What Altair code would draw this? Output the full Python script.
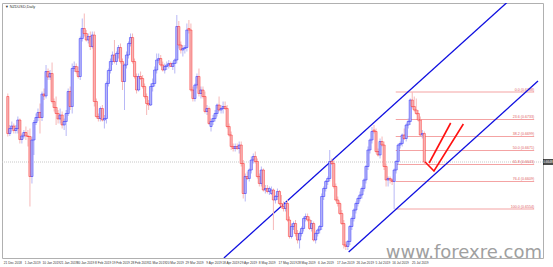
import altair as alt
import pandas as pd

# ---- daily candles (NZDUSD, Daily) ----
opens = [0.6779,0.6705,0.6715,0.6720,0.6711,0.6715,0.6732,0.6693,0.6700,0.6707,0.6700,0.6699,0.6619,0.6692,0.6727,0.6737,0.6747,0.6737,0.6784,0.6780,
         0.6829,0.6818,0.6825,0.6769,0.6757,0.6745,0.6734,0.6742,0.6722,0.6729,0.6745,0.6789,0.6759,0.6835,0.6839,0.6829,0.6819,0.6895,0.6915,0.6905,
         0.6892,0.6899,0.6879,0.6902,
         0.6769,0.6739,0.6735,0.6755,0.6732,0.6735,0.6805,0.6831,0.6849,0.6862,0.6849,0.6865,0.6877,0.6849,0.6809,0.6842,0.6862,0.6885,0.6897,0.6849,
         0.6819,0.6792,0.6819,0.6815,0.6799,0.6779,0.6765,0.6762,0.6799,0.6805,0.6832,0.6852,0.6855,0.6842,0.6832,0.6839,0.6842,0.6845,0.6839,0.6845,
         0.6852,0.6919,0.6882,0.6872,0.6875,0.6877,
         0.6915,0.6912,0.6792,0.6775,0.6802,0.6819,0.6785,0.6792,0.6779,0.6749,0.6755,0.6719,0.6729,0.6735,0.6745,0.6762,0.6752,0.6755,0.6759,0.6755,
         0.6719,0.6702,0.6679,0.6675,0.6679,0.6675,0.6682,0.6645,0.6585,0.6619,0.6615,0.6632,0.6652,0.6659,0.6649,0.6619,0.6605,0.6632,0.6592,0.6595,
         0.6589,0.6585,0.6592,
         0.6572,0.6579,0.6589,0.6565,0.6559,0.6555,0.6565,0.6532,0.6499,0.6519,0.6525,0.6505,0.6492,0.6505,0.6515,0.6535,0.6539,0.6532,0.6515,0.6525,
         0.6492,0.6505,0.6512,0.6519,0.6579,0.6595,0.6609,0.6615,0.6649,0.6645,0.6599,0.6572,0.6565,0.6545,0.6525,0.6482,0.6479,0.6489,0.6519,0.6535,
         0.6552,0.6565,0.6575,
         0.6582,0.6595,0.6612,0.6639,0.6672,0.6692,0.6712,0.6709,0.6669,0.6662,0.6689,0.6682,0.6639,0.6612,0.6615,0.6612,0.6609,0.6632,0.6649,0.6682,
         0.6685,0.6702,0.6695,0.6722,0.6729,0.6772,0.6759,0.6752,0.6745,0.6732,0.6702,0.6705]
highs = [0.6785,0.6722,0.6729,0.6725,0.6722,0.6739,0.6735,0.6705,0.6712,0.6719,0.6712,0.6715,0.6699,0.6732,0.6745,0.6755,0.6765,0.6789,0.6795,0.6842,
         0.6835,0.6832,0.6847,0.6775,0.6779,0.6752,0.6755,0.6749,0.6735,0.6752,0.6795,0.6799,0.6845,0.6849,0.6845,0.6839,0.6899,0.6935,0.6945,0.6912,
         0.6905,0.6909,0.6909,0.6909,
         0.6775,0.6745,0.6759,0.6762,0.6742,0.6809,0.6835,0.6855,0.6869,0.6892,0.6869,0.6882,0.6885,0.6855,0.6845,0.6869,0.6889,0.6905,0.6905,0.6855,
         0.6825,0.6825,0.6829,0.6822,0.6805,0.6785,0.6772,0.6805,0.6815,0.6839,0.6865,0.6865,0.6862,0.6849,0.6845,0.6849,0.6852,0.6849,0.6849,0.6855,
         0.6942,0.6930,0.6889,0.6882,0.6882,0.6925,
         0.6932,0.6925,0.6799,0.6805,0.6825,0.6835,0.6799,0.6799,0.6789,0.6762,0.6759,0.6735,0.6742,0.6752,0.6765,0.6779,0.6762,0.6769,0.6769,0.6762,
         0.6725,0.6709,0.6685,0.6685,0.6685,0.6689,0.6689,0.6652,0.6625,0.6629,0.6635,0.6659,0.6665,0.6669,0.6655,0.6625,0.6639,0.6635,0.6602,0.6602,
         0.6599,0.6599,0.6595,
         0.6582,0.6595,0.6592,0.6582,0.6569,0.6569,0.6572,0.6539,0.6525,0.6529,0.6532,0.6512,0.6509,0.6519,0.6539,0.6545,0.6545,0.6539,0.6532,0.6529,
         0.6509,0.6515,0.6522,0.6585,0.6599,0.6612,0.6619,0.6672,0.6655,0.6652,0.6605,0.6579,0.6569,0.6552,0.6532,0.6489,0.6492,0.6522,0.6539,0.6555,
         0.6569,0.6579,0.6589,
         0.6599,0.6615,0.6642,0.6679,0.6695,0.6718,0.6722,0.6715,0.6675,0.6695,0.6699,0.6689,0.6645,0.6619,0.6619,0.6615,0.6635,0.6652,0.6685,0.6689,
         0.6705,0.6715,0.6725,0.6735,0.6775,0.6788,0.6779,0.6775,0.6752,0.6739,0.6712,0.6709]
lows = [0.6699,0.6700,0.6709,0.6705,0.6705,0.6705,0.6685,0.6685,0.6695,0.6692,0.6679,0.6559,0.6605,0.6662,0.6722,0.6730,0.6705,0.6730,0.6772,0.6775,
        0.6812,0.6812,0.6765,0.6749,0.6722,0.6725,0.6725,0.6715,0.6712,0.6700,0.6740,0.6752,0.6745,0.6828,0.6825,0.6815,0.6812,0.6889,0.6899,0.6889,
        0.6885,0.6872,0.6875,0.6759,
        0.6735,0.6729,0.6729,0.6729,0.6715,0.6725,0.6799,0.6825,0.6842,0.6845,0.6842,0.6855,0.6845,0.6792,0.6752,0.6835,0.6855,0.6879,0.6845,0.6815,
        0.6785,0.6789,0.6812,0.6795,0.6775,0.6742,0.6752,0.6760,0.6789,0.6799,0.6825,0.6845,0.6839,0.6829,0.6825,0.6832,0.6835,0.6839,0.6832,0.6825,
        0.6845,0.6875,0.6865,0.6859,0.6865,0.6869,
        0.6905,0.6789,0.6769,0.6769,0.6795,0.6779,0.6775,0.6775,0.6745,0.6742,0.6722,0.6709,0.6722,0.6729,0.6739,0.6749,0.6745,0.6745,0.6752,0.6715,
        0.6699,0.6672,0.6669,0.6669,0.6672,0.6665,0.6639,0.6575,0.6569,0.6612,0.6609,0.6625,0.6645,0.6645,0.6615,0.6599,0.6599,0.6589,0.6585,0.6585,
        0.6582,0.6582,0.6512,
        0.6565,0.6572,0.6562,0.6555,0.6549,0.6549,0.6529,0.6495,0.6495,0.6512,0.6499,0.6485,0.6475,0.6499,0.6509,0.6529,0.6529,0.6512,0.6509,0.6489,
        0.6485,0.6499,0.6505,0.6512,0.6572,0.6589,0.6602,0.6609,0.6642,0.6595,0.6569,0.6559,0.6542,0.6522,0.6475,0.6472,0.6472,0.6482,0.6512,0.6529,
        0.6545,0.6559,0.6569,
        0.6575,0.6589,0.6605,0.6632,0.6665,0.6685,0.6705,0.6665,0.6659,0.6655,0.6679,0.6632,0.6599,0.6599,0.6605,0.6602,0.6554,0.6625,0.6642,0.6675,
        0.6679,0.6692,0.6689,0.6715,0.6722,0.6755,0.6749,0.6742,0.6729,0.6699,0.6695,0.6642]
closes = [0.6705,0.6715,0.6720,0.6711,0.6715,0.6732,0.6693,0.6700,0.6707,0.6700,0.6699,0.6619,0.6692,0.6727,0.6737,0.6747,0.6737,0.6784,0.6780,0.6829,
          0.6818,0.6825,0.6769,0.6757,0.6745,0.6734,0.6742,0.6722,0.6729,0.6745,0.6789,0.6759,0.6835,0.6839,0.6829,0.6819,0.6895,0.6915,0.6905,0.6892,
          0.6899,0.6879,0.6902,0.6769,
          0.6739,0.6735,0.6755,0.6732,0.6735,0.6805,0.6831,0.6849,0.6862,0.6849,0.6865,0.6877,0.6849,0.6809,0.6842,0.6862,0.6885,0.6897,0.6849,0.6819,
          0.6792,0.6819,0.6815,0.6799,0.6779,0.6765,0.6762,0.6799,0.6805,0.6832,0.6852,0.6855,0.6842,0.6832,0.6839,0.6842,0.6845,0.6839,0.6845,0.6852,
          0.6919,0.6882,0.6872,0.6875,0.6877,0.6912,
          0.6912,0.6792,0.6775,0.6802,0.6819,0.6785,0.6792,0.6779,0.6749,0.6755,0.6725,0.6729,0.6735,0.6745,0.6762,0.6752,0.6755,0.6759,0.6755,0.6719,
          0.6702,0.6679,0.6675,0.6679,0.6675,0.6682,0.6645,0.6585,0.6619,0.6615,0.6632,0.6652,0.6659,0.6649,0.6619,0.6605,0.6632,0.6592,0.6595,0.6589,
          0.6595,0.6592,0.6572,
          0.6579,0.6589,0.6565,0.6559,0.6555,0.6565,0.6532,0.6499,0.6519,0.6525,0.6505,0.6492,0.6505,0.6515,0.6535,0.6539,0.6532,0.6515,0.6525,0.6492,
          0.6505,0.6512,0.6519,0.6579,0.6595,0.6609,0.6615,0.6649,0.6645,0.6599,0.6572,0.6565,0.6545,0.6525,0.6482,0.6479,0.6489,0.6519,0.6535,0.6552,
          0.6565,0.6575,0.6582,
          0.6595,0.6612,0.6639,0.6672,0.6692,0.6709,0.6709,0.6669,0.6662,0.6689,0.6682,0.6639,0.6612,0.6615,0.6612,0.6609,0.6632,0.6649,0.6682,0.6685,
          0.6702,0.6695,0.6722,0.6729,0.6772,0.6759,0.6752,0.6745,0.6732,0.6702,0.6705,0.6648]

# ---- axes ----
y_ticks = [0.6966,0.6947,0.6928,0.6909,0.6890,0.6871,0.6852,0.6833,0.6814,0.6795,0.6776,0.6757,0.6738,0.6719,
           0.6700,0.6681,0.6662,0.6643,0.6624,0.6605,0.6586,0.6567,0.6548,0.6529,0.6510,0.6491,0.6472]
x_label_pos = [2.5,12.3,21.6,30.3,38.6,47.4,56.2,65.5,74.2,83.0,92.8,102.5,110.8,119.6,128.9,139.1,148.4,158.1,167.9,177.6,186.4,195.2,205.0]
x_label_txt = ["21 Dec 2018","1 Jan 2019","10 Jan 2019","21 Jan 2019","30 Jan 2019","8 Feb 2019","19 Feb 2019","28 Feb 2019",
               "11 Mar 2019","20 Mar 2019","29 Mar 2019","9 Apr 2019","18 Apr 2019","29 Apr 2019","8 May 2019","17 May 2019",
               "28 May 2019","6 Jun 2019","17 Jun 2019","26 Jun 2019","5 Jul 2019","16 Jul 2019","25 Jul 2019"]

# ---- drawn objects ----
fib_levels = ["0.0","23.6","38.2","50.0","61.8","76.4","100.0"]
fib_prices = [0.6788,0.6733,0.6699,0.6671,0.6643,0.6609,0.6554]
fib_start, fib_end = 192.8, 261.6

channel_name = ["upper","upper","lower","lower"]
channel_bar = [107.4, 248.9, 169.4, 263.5]
channel_price = [0.6456, 0.6970, 0.6468, 0.6810]

arrow_name = ["a1","a1","a1","a2","a2"]
arrow_order = [0,1,2,0,1]
arrow_bar = [207.4, 211.8, 226.4, 209.4, 220.1]
arrow_price = [0.6648, 0.6630, 0.6724, 0.6646, 0.6726]

last_price = 0.6648

xs = alt.Scale(domain=[-0.4, 263.5], nice=False, zero=False)
ys = alt.Scale(domain=[0.6456, 0.6966], nice=False, zero=False)

n = len(opens)
candles = pd.DataFrame({
    "i": list(range(n)), "o": opens, "h": highs, "l": lows, "c": closes,
    "dir": ["up" if c >= o else "down" for o, c in zip(opens, closes)],
})

base = alt.Chart(candles)
wicks = base.mark_rule(strokeWidth=1).encode(
    x=alt.X("i:Q", scale=xs, axis=None),
    y=alt.Y("l:Q", scale=ys, axis=None),
    y2="h:Q",
    color=alt.Color("dir:N", scale=alt.Scale(domain=["up", "down"], range=["#B8B8F6", "#F6B8B8"]), legend=None),
)
bodies = base.mark_bar(size=2.2, strokeWidth=0.4).encode(
    x=alt.X("i:Q", scale=xs, axis=alt.Axis(values=x_label_pos, labels=False, tickSize=2, tickColor="#666",
                                           domainColor="#777", grid=False, title=None)),
    y=alt.Y("o:Q", scale=ys, axis=alt.Axis(orient="right", values=y_ticks, format=".4f", labelFontSize=3.2,
                                           labelFont="Liberation Sans", labelColor="#444", tickSize=2, tickColor="#666",
                                           labelPadding=1, domainColor="#777", grid=False, title=None)),
    y2="c:Q",
    color=alt.Color("dir:N", scale=alt.Scale(domain=["up", "down"], range=["#0000FF", "#FF0000"]), legend=None),
    stroke=alt.Color("dir:N", scale=alt.Scale(domain=["up", "down"], range=["#0000FF", "#FF0000"]), legend=None),
)

price_line = alt.Chart(pd.DataFrame({"p": [last_price]})).mark_rule(
    color="#C8C8C8", strokeDash=[1, 1], strokeWidth=1).encode(y=alt.Y("p:Q", scale=ys, axis=None))

fib_df = pd.DataFrame({"p": fib_prices, "lab": [f"{lv} ({p:.4f})" for lv, p in zip(fib_levels, fib_prices)],
                       "x0": [fib_start] * 7, "x1": [fib_end] * 7})
fib_lines = alt.Chart(fib_df).mark_rule(color="#F4A3A3", strokeWidth=1).encode(
    x=alt.X("x0:Q", scale=xs, axis=None), x2="x1:Q", y=alt.Y("p:Q", scale=ys, axis=None))
fib_text = alt.Chart(fib_df).mark_text(align="right", baseline="bottom", dy=-0.5, fontSize=3.6,
                                       font="Liberation Sans", color="#E06060").encode(
    x=alt.X("x1:Q", scale=xs, axis=None), y=alt.Y("p:Q", scale=ys, axis=None), text="lab:N")

chan_df = pd.DataFrame({"name": channel_name, "b": channel_bar, "p": channel_price})
channels = alt.Chart(chan_df).mark_line(color="#1010E0", strokeWidth=1.3, clip=True).encode(
    x=alt.X("b:Q", scale=xs, axis=None), y=alt.Y("p:Q", scale=ys, axis=None), detail="name:N")

arr_df = pd.DataFrame({"name": arrow_name, "k": arrow_order, "b": arrow_bar, "p": arrow_price})
arrows = alt.Chart(arr_df).mark_line(color="#FF1010", strokeWidth=1.6).encode(
    x=alt.X("b:Q", scale=xs, axis=None), y=alt.Y("p:Q", scale=ys, axis=None), detail="name:N", order="k:Q")

lp_df = pd.DataFrame({"p": [last_price], "lab": [f"{last_price:.4f}"]})
lp_box = alt.Chart(lp_df).mark_tick(color="black", thickness=6, size=10, orient="horizontal", clip=False).encode(
    x=alt.value(546), y=alt.Y("p:Q", scale=ys, axis=None))
lp_txt = alt.Chart(lp_df).mark_text(color="white", fontSize=3.2, font="Liberation Sans", align="center").encode(
    x=alt.value(546), y=alt.Y("p:Q", scale=ys, axis=None), text="lab:N")

xl_df = pd.DataFrame({"b": x_label_pos, "t": x_label_txt})
x_labels = alt.Chart(xl_df).mark_text(fontSize=3.2, font="Liberation Sans", color="#333", baseline="top", align="center").encode(
    x=alt.X("b:Q", scale=xs, axis=None), y=alt.value(258), text="t:N")

title = alt.Chart(pd.DataFrame({"t": ["\u25bc NZDUSD,Daily"]})).mark_text(
    fontSize=3.8, font="Liberation Sans", color="#333", align="left", baseline="top").encode(
    x=alt.value(3), y=alt.value(2), text="t:N")

watermark = alt.Chart(pd.DataFrame({"t": ["www.forexre.com"]})).mark_text(
    fontSize=18, font="DejaVu Sans", color="#A0A0A0", align="right", baseline="alphabetic").encode(
    x=alt.value(540), y=alt.value(255), text="t:N")

chart = alt.layer(
    price_line, fib_lines, fib_text, channels, wicks, bodies, arrows, lp_box, lp_txt, x_labels, title, watermark
).properties(
    width=541, height=255,
    autosize=alt.AutoSizeParams(type="none"),
    padding={"left": 2, "top": 3, "right": 10, "bottom": 9},
    background="white",
).configure_view(stroke="#B0B0B0", strokeWidth=1)

chart.save("out.html", embed_options={"renderer": "svg", "actions": False})
